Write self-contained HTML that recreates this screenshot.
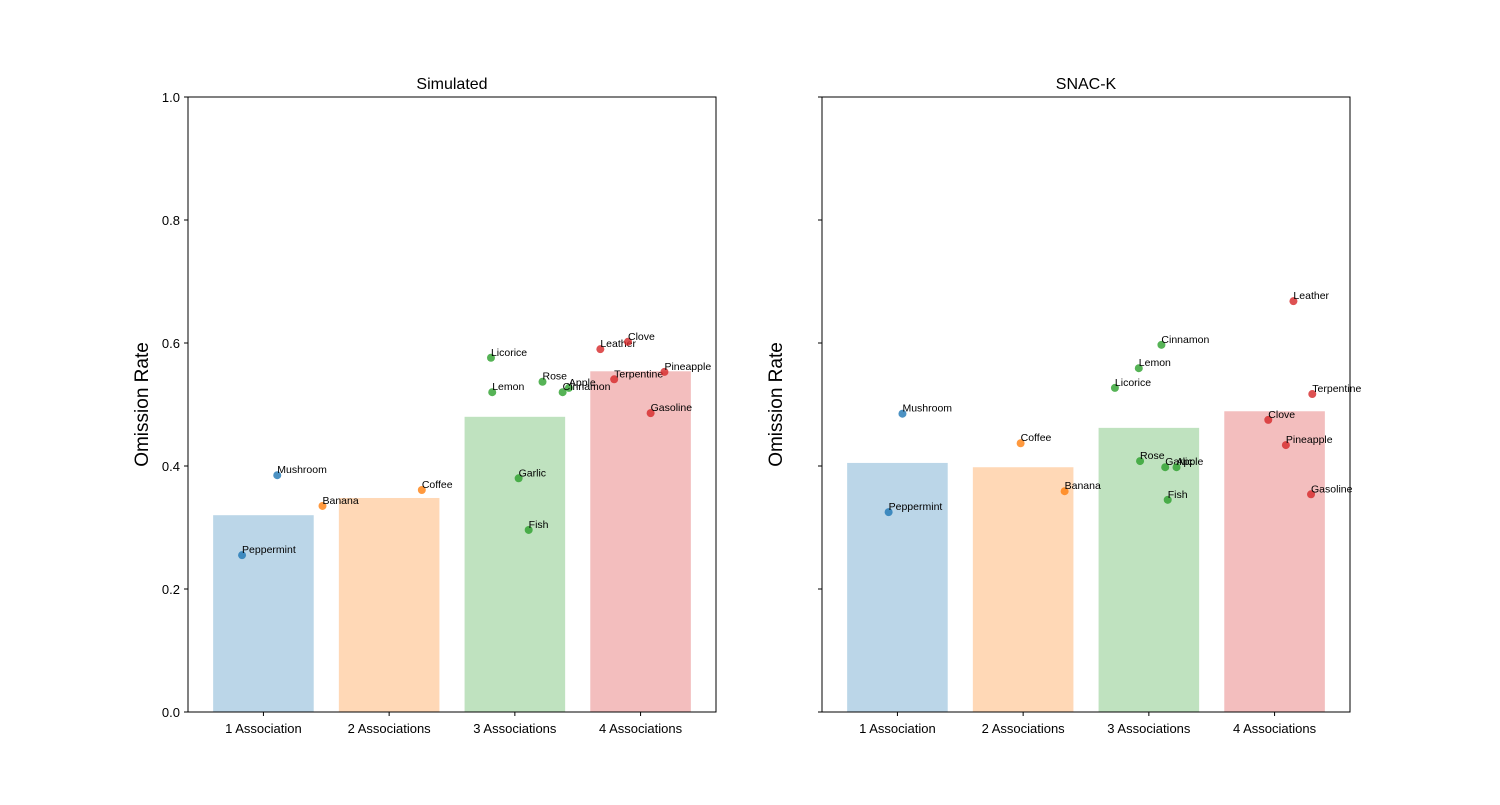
<!DOCTYPE html>
<html><head><meta charset="utf-8"><style>body{margin:0;background:#fff}svg{font-family:"Liberation Sans","DejaVu Sans",sans-serif}</style></head>
<body>
<svg id="c" width="1500" height="800" viewBox="0 0 1500 800"></svg>
<script>
const categories=["1 Association","2 Associations","3 Associations","4 Associations"];
const colors=["#1f77b4","#ff7f0e","#2ca02c","#d62728"];
const simBars=[0.320,0.348,0.480,0.554];
const snacBars=[0.405,0.398,0.462,0.489];
const yTicks=[0,0.2,0.4,0.6,0.8,1.0];
const yTickLabels=["0.0","0.2","0.4","0.6","0.8","1.0"];
// [name, category index, jitter, value]
const simPoints=[["Peppermint",0,-0.17,0.255],["Mushroom",0,0.11,0.385],["Banana",1,-0.53,0.335],["Coffee",1,0.26,0.361],["Licorice",2,-0.19,0.576],["Lemon",2,-0.18,0.520],["Rose",2,0.22,0.537],["Apple",2,0.43,0.527],["Cinnamon",2,0.38,0.520],["Garlic",2,0.03,0.380],["Fish",2,0.11,0.296],["Leather",3,-0.32,0.590],["Clove",3,-0.10,0.602],["Terpentine",3,-0.21,0.541],["Pineapple",3,0.19,0.553],["Gasoline",3,0.08,0.486]];
const snacPoints=[["Peppermint",0,-0.07,0.325],["Mushroom",0,0.04,0.485],["Coffee",1,-0.02,0.437],["Banana",1,0.33,0.359],["Cinnamon",2,0.10,0.597],["Lemon",2,-0.08,0.559],["Licorice",2,-0.27,0.527],["Rose",2,-0.07,0.408],["Garlic",2,0.13,0.398],["Apple",2,0.22,0.398],["Fish",2,0.15,0.345],["Leather",3,0.15,0.668],["Terpentine",3,0.30,0.517],["Clove",3,-0.05,0.475],["Pineapple",3,0.09,0.434],["Gasoline",3,0.29,0.354]];
const svg=document.getElementById('c');const NS='http://www.w3.org/2000/svg';
function mk(t,a,p){const e=document.createElementNS(NS,t);for(const k in a)e.setAttribute(k,a[k]);(p||svg).appendChild(e);return e;}
function panel(x0,title,bars,pts,showLabels,key){
 const W=528,top=97,bot=712;
 const xs=v=>x0+(v+0.6)/4.2*W, ys=v=>bot-v*(bot-top);
 const g=mk('g',{});
 
 
 bars.forEach((v,i)=>{const r=mk('rect',{x:xs(i-0.4),y:ys(v),width:xs(0.4)-xs(-0.4),height:ys(0)-ys(v),fill:colors[i],'fill-opacity':0.3},g);
  
  });
 pts.forEach(p=>{const cx=xs(p[1]+p[2]),cy=ys(p[3]);
  const c=mk('circle',{cx:cx,cy:cy,r:4,fill:colors[p[1]],'fill-opacity':0.8},g);
  
  
  const t=mk('text',{x:cx,y:cy-2,'font-size':10.5},g);t.textContent=p[0];
  
  });
 mk('rect',{x:x0,y:top,width:W,height:bot-top,fill:'none',stroke:'#000','stroke-width':1},g);
 yTicks.forEach((v,i)=>{mk('line',{x1:x0-4,x2:x0,y1:ys(v),y2:ys(v),stroke:'#000'},g);
  if(showLabels){const t=mk('text',{x:x0-8,y:ys(v)+5,'font-size':13,'text-anchor':'end'},g);t.textContent=yTickLabels[i];
  
  }});
 categories.forEach((c,i)=>{mk('line',{x1:xs(i),x2:xs(i),y1:bot,y2:bot+4,stroke:'#000'},g);
  const t=mk('text',{x:xs(i),y:bot+21,'font-size':13,'text-anchor':'middle'},g);t.textContent=c;
  
  });
 const tt=mk('text',{x:x0+W/2,y:top-8,'font-size':16,'text-anchor':'middle'},g);tt.textContent=title;
 
 
 const yl=mk('text',{x:0,y:0,'font-size':19,'text-anchor':'middle',transform:`translate(${x0-40},${(top+bot)/2}) rotate(-90)`},g);yl.textContent='Omission Rate';
 
 
}
panel(188,'Simulated',simBars,simPoints,true,'simulated');
panel(822,'SNAC-K',snacBars,snacPoints,false,'snack');
</script>
</body></html>
